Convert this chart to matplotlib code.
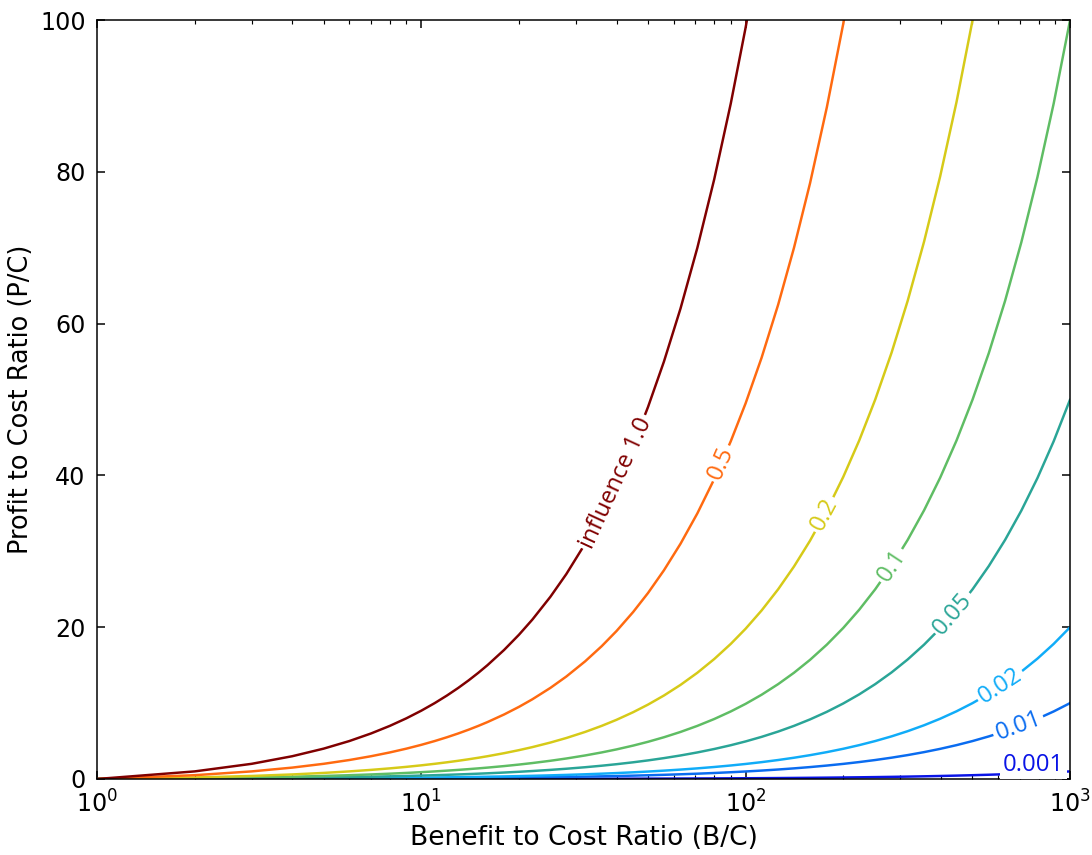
import numpy as np
import matplotlib
matplotlib.use("Agg")
import matplotlib.pyplot as plt

plt.rc("font", family="DejaVu Sans", size=12.5)
plt.rc("lines", lw=1.3)

# benefit-to-cost grid and profit-to-cost values
bc = [1, 2, 3, 4, 5, 6, 7, 8, 9, 10, 11, 12, 13, 14, 15, 16,
      18, 20, 22, 25, 28, 32, 36, 40, 45, 50, 56, 63, 71, 80, 90, 100,
      112, 126, 141, 158, 178, 200, 224, 251, 282, 316, 355, 398, 447, 501,
      562, 631, 708, 794, 891, 1000]

pc_1_0 = [0, 1, 2, 3, 4, 5, 6, 7, 8, 9, 10, 11, 12, 13, 14, 15,
          17, 19, 21, 24, 27, 31, 35, 39, 44, 49, 55, 62, 70, 79, 89, 99,
          111, 125]
pc_0_5 = [0, 0.5, 1, 1.5, 2, 2.5, 3, 3.5, 4, 4.5, 5, 5.5, 6, 6.5, 7, 7.5,
          8.5, 9.5, 10.5, 12, 13.5, 15.5, 17.5, 19.5, 22, 24.5, 27.5, 31, 35,
          39.5, 44.5, 49.5, 55.5, 62.5, 70, 78.5, 88.5, 99.5, 111.5]
pc_0_2 = [0, 0.2, 0.4, 0.6, 0.8, 1, 1.2, 1.4, 1.6, 1.8, 2, 2.2, 2.4, 2.6, 2.8, 3,
          3.4, 3.8, 4.2, 4.8, 5.4, 6.2, 7, 7.8, 8.8, 9.8, 11, 12.4, 14, 15.8,
          17.8, 19.8, 22.2, 25, 28, 31.4, 35.4, 39.8, 44.6, 50, 56.2, 63, 70.8,
          79.4, 89.2, 100, 112.2]
pc_0_1 = [0, 0.1, 0.2, 0.3, 0.4, 0.5, 0.6, 0.7, 0.8, 0.9, 1, 1.1, 1.2, 1.3,
          1.4, 1.5,
          1.7, 1.9, 2.1, 2.4, 2.7, 3.1, 3.5, 3.9, 4.4, 4.9, 5.5, 6.2, 7, 7.9,
          8.9, 9.9, 11.1, 12.5, 14, 15.7, 17.7, 19.9, 22.3, 25, 28.1, 31.5,
          35.4, 39.7, 44.6, 50, 56.1, 63, 70.7, 79.3, 89, 99.9]
pc_0_05 = [0, 0.05, 0.1, 0.15, 0.2, 0.25, 0.3, 0.35, 0.4, 0.45, 0.5, 0.55,
           0.6, 0.65, 0.7, 0.75,
           0.85, 0.95, 1.05, 1.2, 1.35, 1.55, 1.75, 1.95, 2.2, 2.45, 2.75,
           3.1, 3.5, 3.95, 4.45, 4.95, 5.55, 6.25, 7, 7.85, 8.85, 9.95, 11.15,
           12.5, 14.05, 15.75, 17.7, 19.85, 22.3, 25, 28.05, 31.5, 35.35,
           39.65, 44.5, 49.95]
pc_0_02 = [0, 0.02, 0.04, 0.06, 0.08, 0.1, 0.12, 0.14, 0.16, 0.18, 0.2, 0.22,
           0.24, 0.26, 0.28, 0.3,
           0.34, 0.38, 0.42, 0.48, 0.54, 0.62, 0.7, 0.78, 0.88, 0.98, 1.1,
           1.24, 1.4, 1.58, 1.78, 1.98, 2.22, 2.5, 2.8, 3.14, 3.54, 3.98, 4.46,
           5, 5.62, 6.3, 7.08, 7.94, 8.92, 10, 11.22, 12.6, 14.14, 15.86, 17.8,
           19.98]
pc_0_01 = [0, 0.01, 0.02, 0.03, 0.04, 0.05, 0.06, 0.07, 0.08, 0.09, 0.1, 0.11,
           0.12, 0.13, 0.14, 0.15,
           0.17, 0.19, 0.21, 0.24, 0.27, 0.31, 0.35, 0.39, 0.44, 0.49, 0.55,
           0.62, 0.7, 0.79, 0.89, 0.99, 1.11, 1.25, 1.4, 1.57, 1.77, 1.99,
           2.23, 2.5, 2.81, 3.15, 3.54, 3.97, 4.46, 5, 5.61, 6.3, 7.07, 7.93,
           8.9, 9.99]
pc_0_001 = [0, 0.001, 0.002, 0.003, 0.004, 0.005, 0.006, 0.007, 0.008, 0.009,
            0.01, 0.011, 0.012, 0.013, 0.014, 0.015,
            0.017, 0.019, 0.021, 0.024, 0.027, 0.031, 0.035, 0.039, 0.044,
            0.049, 0.055, 0.062, 0.07, 0.079, 0.089, 0.099, 0.111, 0.125,
            0.14, 0.157, 0.177, 0.199, 0.223, 0.25, 0.281, 0.315, 0.354, 0.397,
            0.446, 0.5, 0.561, 0.63, 0.707, 0.793, 0.89, 0.999]

curves = [pc_0_001, pc_0_01, pc_0_02, pc_0_05, pc_0_1, pc_0_2, pc_0_5, pc_1_0]
labels = ["0.001", "0.01", "0.02", "0.05", "0.1", "0.2", "0.5", "influence 1.0"]
colors = ["#0a14e6", "#0a6cf0", "#10acf8", "#2aa597", "#5fbd64", "#d6ca18",
          "#ff6a10", "#800000"]
label_bc = [770, 694, 611, 436, 282, 175, 84, 40]
label_pc = [1.9, None, None, None, None, None, None, None]

fig = plt.figure(figsize=(8, 855 / 136.5))
ax = fig.add_axes([0.0888, 0.0889, 0.891, 0.8877])

for pc, c in zip(curves, colors):
    ax.plot(bc[:len(pc)], pc, color=c)

ax.set_xscale("log")
ax.set_xlim(1, 1000)
ax.set_ylim(0, 100)
ax.set_yticks([0, 20, 40, 60, 80, 100])
ax.set_xlabel("Benefit to Cost Ratio (B/C)", fontsize=14)
ax.set_ylabel("Profit to Cost Ratio (P/C)", fontsize=13.5, labelpad=3)
ax.tick_params(which="both", direction="in", top=True, right=True)
ax.tick_params(which="major", length=4, pad=6)
ax.tick_params(which="minor", length=2)

# inline labels rotated along the curves
fig.canvas.draw()
lbc = np.log10(bc)
for pc, c, txt, x, y in zip(curves, colors, labels, label_bc, label_pc):
    n = len(pc)
    yc = np.interp(np.log10(x), lbc[:n], pc)
    y1 = np.interp(np.log10(x * 0.95), lbc[:n], pc)
    y2 = np.interp(np.log10(x * 1.05), lbc[:n], pc)
    p1 = ax.transData.transform((x * 0.95, y1))
    p2 = ax.transData.transform((x * 1.05, y2))
    ang = np.degrees(np.arctan2(p2[1] - p1[1], p2[0] - p1[0]))
    if y is None:
        y = yc
    else:
        ang = 0
    ax.text(x, y, txt, color=c, family="Open Sans", fontsize=12.5,
            rotation=ang, rotation_mode="anchor", ha="center", va="center",
            bbox=dict(fc="white", ec="none", pad=1.5), zorder=3)

fig.savefig("out.png", dpi=136.5)
